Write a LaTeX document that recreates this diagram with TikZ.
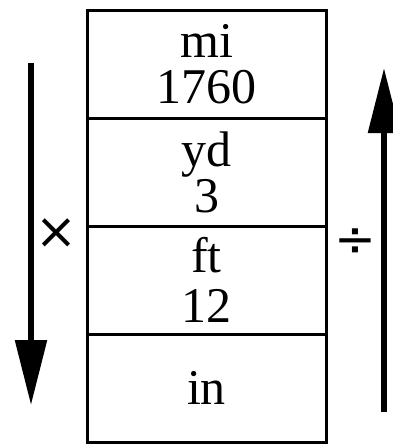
\documentclass[tikz,border=0pt]{standalone}
\usepackage{fontspec}
\setmainfont{Liberation Serif}
\newfontfamily\signfont{DejaVu Sans}
\usetikzlibrary{positioning,arrows.meta}
\tikzset{
unitbox/.style={
draw,
line width=3pt,
outer sep=0pt,
inner sep=0pt,
minimum width=239pt,
minimum height=108pt,
align=center,
font=\fontsize{50}{46}\selectfont
},
bigarrow/.style={
-{Triangle[length=65pt,width=31pt]},
line width=5.5pt
},
opsign/.style={
inner sep=0pt,
font=\signfont\fontsize{50}{50}\selectfont
}
}
\begin{document}
\begin{tikzpicture}[x=1pt,y=-1pt,node distance=0pt]
\useasboundingbox (0,0) rectangle (393,445);
\node[unitbox](mi) at (206.5,64){mi\\1760};
\node[unitbox,below=of mi](yd){yd\\3};
\node[unitbox,below=of yd,font=\fontsize{50}{50}\selectfont](ft){ft\\12};
\node[unitbox,below=of ft](inch){in};

\coordinate (ltop) at (31,63);
\coordinate (lbot) at (31,405);
\coordinate (rbot) at (384,412);
\coordinate (rtop) at (384,68);
\draw[bigarrow](ltop)--(lbot);
\draw[bigarrow](rbot)--(rtop);

\node[opsign](times) at (56,234){×};
\node[opsign](divide) at (355,243){÷};
\end{tikzpicture}
\end{document}
